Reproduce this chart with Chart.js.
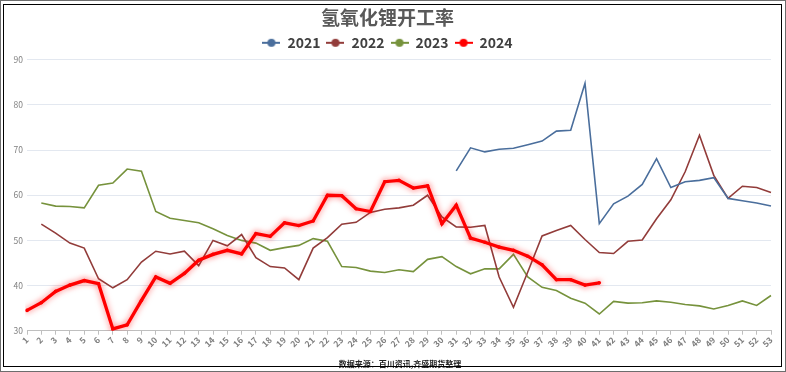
<!DOCTYPE html>
<html>
<head>
<meta charset="utf-8">
<script src="https://cdn.jsdelivr.net/npm/chart.js@4/dist/chart.umd.min.js"></script>
<style>
html,body{margin:0;padding:0;background:#fff;}
#wrap{position:relative;width:786px;height:372px;overflow:hidden;}
#c{position:absolute;left:0;top:0;}
#outer{position:absolute;left:0;top:0;width:786px;height:372px;box-sizing:border-box;border:1px solid #6d6d6d;pointer-events:none;}
#inner{position:absolute;left:3px;top:4px;width:779px;height:363px;box-sizing:border-box;border:1px solid #000;pointer-events:none;}
</style>
</head>
<body>
<div id="wrap">
<canvas id="c" width="786" height="372"></canvas>
<div id="outer"></div>
<div id="inner"></div>
</div>
<script>
const titleText = '氢氧化锂开工率';
const sourceText = '数据来源：百川资讯,齐盛期货整理';
const weeks = ['1','2','3','4','5','6','7','8','9','10','11','12','13','14','15','16','17','18','19','20','21','22','23','24','25','26','27','28','29','30','31','32','33','34','35','36','37','38','39','40','41','42','43','44','45','46','47','48','49','50','51','52','53'];
const seriesNames = ['2021','2022','2023','2024'];
const yTicks = [30, 40, 50, 60, 70, 80, 90];

const y2021 = [null,null,null,null,null,null,null,null,null,null,null,null,null,null,null,null,null,null,null,null,null,null,null,null,null,null,null,null,null,null,
  65.4,70.5,69.6,70.2,70.4,71.2,72.0,74.2,74.4,84.8,53.7,58.1,59.8,62.4,68.1,61.7,63.0,63.3,63.9,59.3,58.8,58.3,57.6];
const y2022 = [null,53.6,51.6,49.4,48.3,41.5,39.5,41.3,45.2,47.6,47.0,47.6,44.4,50.0,48.8,51.3,46.2,44.2,43.9,41.3,48.3,50.6,53.6,54.0,56.2,56.9,57.2,57.8,60.0,55.2,53.0,52.9,53.3,41.9,35.2,43.0,51.0,52.2,53.3,50.2,47.3,47.1,49.8,50.1,54.8,59.0,65.2,73.3,64.4,59.3,62.0,61.7,60.6];
const y2023 = [null,58.3,57.6,57.5,57.2,62.2,62.7,65.8,65.3,56.4,54.9,54.4,53.9,52.6,51.1,50.0,49.4,47.8,48.4,48.9,50.4,49.8,44.2,44.0,43.2,42.9,43.5,43.1,45.8,46.4,44.2,42.6,43.7,43.7,46.9,41.9,39.6,38.9,37.2,36.1,33.7,36.5,36.1,36.2,36.6,36.3,35.8,35.5,34.8,35.6,36.6,35.6,37.8];
const y2024 = [34.5,36.2,38.7,40.1,41.1,40.4,30.4,31.3,36.7,41.9,40.5,42.7,45.6,46.9,47.8,47.0,51.5,50.9,53.9,53.3,54.3,60.0,59.9,57.0,56.4,63.0,63.3,61.6,62.1,53.7,57.8,50.5,49.6,48.5,47.8,46.5,44.6,41.3,41.3,40.1,40.6];

const colors = ['#4a6e9c', '#923c3a', '#76923c', '#ff0000'];

function legendIcon(color){
  const cv = document.createElement('canvas');
  cv.width = 18; cv.height = 10;
  const g = cv.getContext('2d');
  g.strokeStyle = color; g.lineWidth = 2;
  g.beginPath(); g.moveTo(0,5); g.lineTo(18,5); g.stroke();
  g.fillStyle = color;
  g.beginPath(); g.arc(9,5,4,0,Math.PI*2); g.fill();
  return cv;
}

const glowPlugin = {
  id: 'glow',
  beforeDatasetDraw(chart, args){
    if (args.index === 3){
      const ctx = chart.ctx;
      ctx.save();
      ctx.shadowColor = 'rgba(255,0,0,0.55)';
      ctx.shadowBlur = 6;
    }
  },
  afterDatasetDraw(chart, args){
    if (args.index === 3){ chart.ctx.restore(); }
  }
};

const sourcePlugin = {
  id: 'sourceNote',
  afterDraw(chart){
    const ctx = chart.ctx;
    ctx.save();
    ctx.font = 'bold 8px "Noto Sans CJK SC", sans-serif';
    ctx.fillStyle = '#262626';
    ctx.textAlign = 'center';
    ctx.textBaseline = 'middle';
    ctx.fillText(sourceText, 400, 364);
    ctx.restore();
  }
};

const dataArrays = [y2021, y2022, y2023, y2024];
const datasets = seriesNames.map((n, i) => ({
  label: n,
  data: dataArrays[i],
  borderColor: colors[i],
  backgroundColor: colors[i],
  borderWidth: i === 3 ? 3.3 : 1.6,
  pointRadius: i === 3 ? 1.8 : 0,
  pointBorderWidth: 0,
  pointHoverRadius: 0,
  pointStyle: 'circle',
  tension: 0,
  spanGaps: false,
  order: i === 3 ? 0 : 1
}));

new Chart(document.getElementById('c'), {
  type: 'line',
  data: { labels: weeks, datasets },
  plugins: [glowPlugin, sourcePlugin],
  options: {
    responsive: false,
    animation: false,
    devicePixelRatio: 1,
    layout: { padding: { left: 4, right: 15, top: 0, bottom: 23 } },
    plugins: {
      title: {
        display: true,
        text: titleText,
        color: '#595959',
        font: { family: '"Noto Sans CJK SC", sans-serif', size: 19, weight: 'bold' },
        padding: { top: 6, bottom: 1 }
      },
      legend: {
        display: true,
        position: 'top',
        labels: {
          color: '#404040',
          font: { family: '"Noto Sans CJK SC", sans-serif', size: 14, weight: 'bold' },
          usePointStyle: true,
          pointStyleWidth: 18,
          boxHeight: 10,
          padding: 6,
          generateLabels(chart){
            return chart.data.datasets.map((ds, i) => ({
              text: ds.label,
              fontColor: '#404040',
              pointStyle: legendIcon(colors[i]),
              strokeStyle: colors[i],
              fillStyle: colors[i],
              lineWidth: 0,
              hidden: false,
              datasetIndex: i
            }));
          }
        }
      },
      tooltip: { enabled: false }
    },
    scales: {
      x: {
        offset: false,
        grid: { display: true, drawOnChartArea: false, drawTicks: true, tickLength: 4, color: '#bfbfbf' },
        border: { display: true, color: '#bfbfbf' },
        ticks: {
          autoSkip: false,
          minRotation: 45,
          maxRotation: 45,
          padding: 0,
          color: '#7f7f7f',
          font: { family: '"Noto Sans CJK SC", sans-serif', size: 8.5, weight: 'bold' }
        }
      },
      y: {
        min: 30,
        max: 90,
        afterBuildTicks(axis){ axis.ticks = yTicks.map(v => ({ value: v })); },
        afterFit(axis){ axis.width = 23; },
        grid: { color: '#e3e8f0', drawTicks: false, lineWidth: 1 },
        border: { display: false },
        ticks: {
          padding: 4,
          color: '#7f7f7f',
          font: { family: '"Noto Sans CJK SC", sans-serif', size: 8.5 }
        }
      }
    }
  }
});
</script>
</body>
</html>
